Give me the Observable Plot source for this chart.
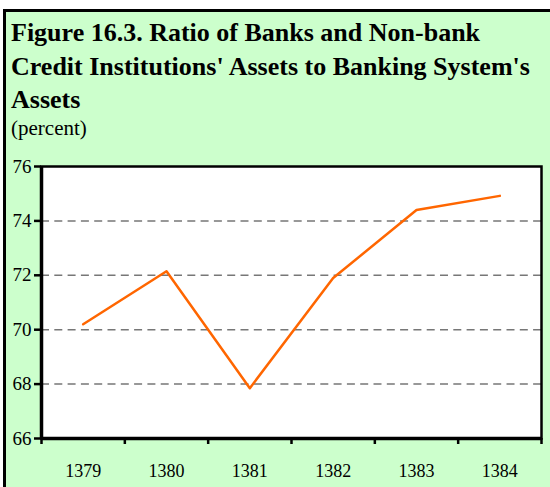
<!DOCTYPE html>
<html>
<head>
<meta charset="utf-8">
<script src="https://cdn.jsdelivr.net/npm/d3@7"></script>
<script src="https://cdn.jsdelivr.net/npm/@observablehq/plot@0.6"></script>
<style>
  html, body { margin: 0; padding: 0; background: #ffffff; width: 550px; height: 487px; overflow: hidden; }
  #box { position: absolute; left: 3px; top: 9px; width: 600px; height: 520px; box-sizing: border-box;
         border: 3px solid #000; background: #CCFFCC; }
  #title { position: absolute; left: 5px; top: 4px; font-family: "Liberation Serif", "Times New Roman", serif;
           font-weight: bold; font-size: 26px; line-height: 33.5px; color: #000; white-space: nowrap; }
  #sub { position: absolute; left: 5px; top: 104px; font-family: "Liberation Serif", "Times New Roman", serif;
         font-size: 21px; color: #000; white-space: nowrap; }
  #chart { position: absolute; left: 0; top: 150px; }
</style>
</head>
<body>
<div id="box">
  <div id="title">Figure 16.3. Ratio of Banks and Non-bank<br>Credit Institutions' Assets to Banking System's<br>Assets</div>
  <div id="sub">(percent)</div>
</div>
<div id="chart"></div>
<script>
const years = [1379, 1380, 1381, 1382, 1383, 1384];
const values = [70.2, 72.15, 67.85, 71.9, 74.4, 74.92];
const yTicks = [66, 68, 70, 72, 74, 76];
const gridTicks = [68, 70, 72, 74];
const bandEdges = [1378.5, 1379.5, 1380.5, 1381.5, 1382.5, 1383.5, 1384.5];

const data = years.map((y, i) => ({year: y, value: values[i]}));

const chart = Plot.plot({
  width: 550,
  height: 337,
  marginLeft: 41,
  marginRight: 9,
  marginTop: 16,
  marginBottom: 49,
  style: {background: "transparent", fontFamily: "'Liberation Serif', 'Times New Roman', serif", fontSize: "18px", color: "#000"},
  x: {type: "linear", domain: [1378.5, 1384.5]},
  y: {domain: [66, 76]},
  marks: [
    Plot.frame({fill: "#fff", stroke: null}),
    Plot.ruleY(gridTicks, {stroke: "#777", strokeWidth: 1.5, strokeDasharray: "8,5.3"}),
    Plot.frame({stroke: "#000", strokeWidth: 2.5}),
    Plot.ruleX([1378.5], {stroke: "#000", strokeWidth: 3.5}),
    Plot.ruleY([66], {stroke: "#000", strokeWidth: 3.5}),
    Plot.axisY({ticks: yTicks, tickSize: 7, tickPadding: 3, strokeWidth: 2.5, fontSize: 19, label: null, tickFormat: d => String(d)}),
    Plot.axisX({ticks: bandEdges, tickSize: 6, strokeWidth: 2.5, tickFormat: () => "", label: null}),
    Plot.axisX({ticks: years, tickSize: 0, tickPadding: 26, tickFormat: d => String(d), label: null}),
    Plot.line(data, {x: "year", y: "value", stroke: "#FF6600", strokeWidth: 2.5})
  ]
});
document.getElementById("chart").appendChild(chart);
</script>
</body>
</html>
